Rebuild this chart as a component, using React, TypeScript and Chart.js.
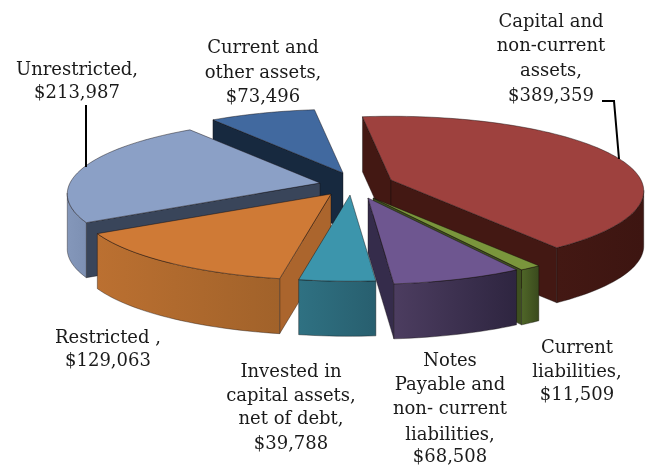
import React, { useEffect, useRef } from "react";
import { Chart, registerables } from "chart.js";

Chart.register(...registerables);

const categories = [
  "Capital and non-current assets",
  "Current liabilities",
  "Notes Payable and non-current liabilities",
  "Invested in capital assets, net of debt",
  "Restricted",
  "Unrestricted",
  "Current and other assets",
];
const values = [389359, 11509, 68508, 39788, 129063, 213987, 73496];

const labelLines = [
  ["Capital and", "non-current", "assets,", "$389,359"],
  ["Current", "liabilities,", "$11,509"],
  ["Notes", "Payable and", "non- current", "liabilities,", "$68,508"],
  ["Invested in", "capital assets,", "net of debt,", "$39,788"],
  ["Restricted ,", "$129,063"],
  ["Unrestricted,", "$213,987"],
  ["Current and", "other assets,", "$73,496"],
];
const labelX = [551, 577, 450, 291, 108, 77, 263];
const labelY = [
  [22, 46, 71, 96],
  [348, 372, 395],
  [361, 385, 409, 435, 457],
  [372, 396, 419, 444],
  [338, 361],
  [70, 93],
  [48, 73, 97],
];

const topColors = ["#9e413e", "#7a963c", "#6e5690", "#3c95ac", "#cf7a36", "#8ba0c6", "#41699f"];
const radialWall = ["#431813", "#3e4f1f", "#352c4b", "#2a6a7b", "#ab652d", "#39455a", "#17293f"];
const curveFrom = ["#431813", "#4f6628", "#4c3d60", "#2f7182", "#bb7031", "#8497ba", "#17293f"];
const curveTo = ["#3d1511", "#3a4a1d", "#2e2540", "#285f6f", "#a1622a", "#7d90b3", "#17293f"];

// Exploded position of each slice's tip on the page
const tipX = [391, 373, 368, 350, 331, 320, 343];
const tipY = [180, 198, 198, 195, 194, 183, 173];
const paintOrder = [6, 0, 5, 4, 1, 2, 3];

const RADIUS = 250;
const SQUASH = 0.3;
const PERSPECTIVE = 0.15;
const DEPTH = 55;
const FONT = '18px "DejaVu Serif"';

type Pt = [number, number];

const pie3d = {
  id: "pie3d",
  beforeDatasetDraw(chart: any) {
    const ctx: CanvasRenderingContext2D = chart.ctx;
    const arcs = chart.getDatasetMeta(0).data;
    ctx.save();
    ctx.lineJoin = "round";
    for (const i of paintOrder) {
      const arc = arcs[i];
      const ax = tipX[i];
      const ay = tipY[i];
      const project = (a: number): Pt => {
        const X = Math.cos(a);
        const Y = Math.sin(a);
        const s = 1 + PERSPECTIVE * Y;
        return [ax + RADIUS * X * s, ay + RADIUS * SQUASH * Y * s];
      };
      const steps = Math.max(6, Math.ceil((arc.endAngle - arc.startAngle) / 0.03));
      const rim: Pt[] = [];
      for (let k = 0; k <= steps; k++) {
        rim.push(project(arc.startAngle + ((arc.endAngle - arc.startAngle) * k) / steps));
      }
      const tip: Pt = [ax, ay];
      const edge = "rgba(15,10,10,0.55)";

      const wall = (p: Pt, q: Pt) => {
        if (q[0] >= p[0]) return;
        ctx.beginPath();
        ctx.moveTo(p[0], p[1]);
        ctx.lineTo(q[0], q[1]);
        ctx.lineTo(q[0], q[1] + DEPTH);
        ctx.lineTo(p[0], p[1] + DEPTH);
        ctx.closePath();
        ctx.fillStyle = radialWall[i];
        ctx.fill();
        ctx.strokeStyle = edge;
        ctx.lineWidth = 0.7;
        ctx.stroke();
      };
      wall(tip, rim[0]);
      wall(rim[rim.length - 1], tip);

      // curved outer wall: only the runs facing the viewer
      let run: Pt[] = [];
      const flush = () => {
        if (run.length > 1) {
          const xs = run.map((p) => p[0]);
          const g = ctx.createLinearGradient(Math.min(...xs), 0, Math.max(...xs), 0);
          g.addColorStop(0, curveFrom[i]);
          g.addColorStop(1, curveTo[i]);
          ctx.beginPath();
          run.forEach((p, k) => (k ? ctx.lineTo(p[0], p[1]) : ctx.moveTo(p[0], p[1])));
          for (let k = run.length - 1; k >= 0; k--) ctx.lineTo(run[k][0], run[k][1] + DEPTH);
          ctx.closePath();
          ctx.fillStyle = g;
          ctx.fill();
          ctx.strokeStyle = edge;
          ctx.lineWidth = 0.7;
          ctx.stroke();
        }
        run = [];
      };
      for (let k = 1; k < rim.length; k++) {
        if (rim[k][0] < rim[k - 1][0]) {
          if (!run.length) run.push(rim[k - 1]);
          run.push(rim[k]);
        } else flush();
      }
      flush();

      // top face
      ctx.beginPath();
      ctx.moveTo(ax, ay);
      rim.forEach((p) => ctx.lineTo(p[0], p[1]));
      ctx.closePath();
      ctx.fillStyle = topColors[i];
      ctx.fill();
      ctx.strokeStyle = edge;
      ctx.lineWidth = 0.8;
      ctx.stroke();
    }
    ctx.restore();
    return false;
  },
  afterDraw(chart: any) {
    const ctx: CanvasRenderingContext2D = chart.ctx;
    ctx.save();
    ctx.strokeStyle = "#000";
    ctx.lineWidth = 2;
    ctx.beginPath();
    ctx.moveTo(86, 105);
    ctx.lineTo(86, 167);
    ctx.moveTo(602, 101);
    ctx.lineTo(614, 101);
    ctx.lineTo(619, 159);
    ctx.stroke();
    ctx.fillStyle = "#1a1a1a";
    ctx.font = FONT;
    ctx.textAlign = "center";
    ctx.textBaseline = "middle";
    labelLines.forEach((lines, i) => {
      lines.forEach((t, k) => ctx.fillText(t, labelX[i], labelY[i][k]));
    });
    ctx.restore();
  },
};

export default function App() {
  const ref = useRef<HTMLCanvasElement>(null);
  useEffect(() => {
    const chart = new Chart(ref.current!, {
      type: "pie",
      data: {
        labels: categories,
        datasets: [{ data: values, backgroundColor: topColors, borderWidth: 0 }],
      },
      options: {
        responsive: false,
        animation: false,
        rotation: -7.7,
        plugins: { legend: { display: false }, tooltip: { enabled: false } },
      },
      plugins: [pie3d],
    } as any);
    return () => chart.destroy();
  }, []);
  return (
    <div style={{ position: "fixed", left: 0, top: 0, width: 648, height: 466, background: "#fff" }}>
      <canvas ref={ref} width={648} height={466} style={{ display: "block" }} />
    </div>
  );
}
